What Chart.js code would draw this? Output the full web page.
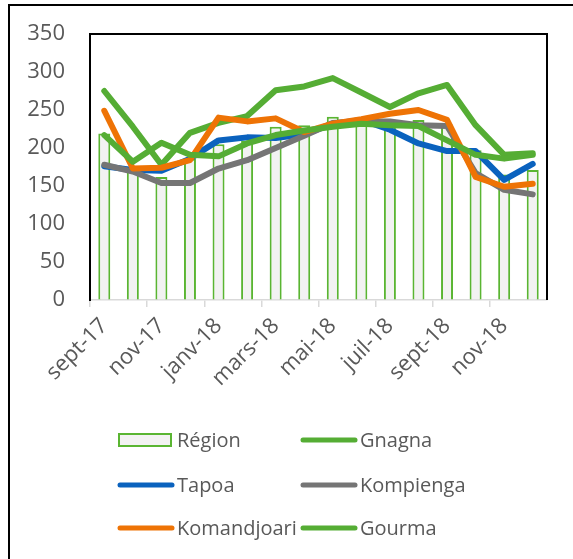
<!DOCTYPE html>
<html>
<head>
<meta charset="utf-8">
<script src="https://cdn.jsdelivr.net/npm/chart.js@4.4.0/dist/chart.umd.min.js"></script>
<style>
  html, body { margin: 0; padding: 0; background: #fff; }
  #wrap { position: relative; width: 573px; height: 559px; }
</style>
</head>
<body>
<div id="wrap"><canvas id="chart" width="573" height="559"></canvas></div>
<script>
// monthly values, sept-17 .. déc-18
const months = ['sept-17', 'oct-17', 'nov-17', 'déc-17', 'janv-18', 'févr-18', 'mars-18', 'avr-18',
                'mai-18', 'juin-18', 'juil-18', 'août-18', 'sept-18', 'oct-18', 'nov-18', 'déc-18'];
const region      = [219, 175, 162, 186, 205, 210, 228, 230, 241, 240, 233, 237, 231, 197, 165, 171];
const gnagna      = [275, 228, 178, 220, 233, 242, 276, 281, 292, 273, 254, 272, 283, 230, 191, 193];
const tapoa       = [176, 171, 170, 186, 210, 214, 213, 218, 232, 237, 224, 206, 196, 196, 158, 179];
const kompienga   = [178, 169, 154, 154, 173, 184, 200, 216, 233, 235, 235, 230, 229, 167, 145, 139];
const komandjoari = [249, 173, 174, 184, 240, 235, 239, 221, 232, 238, 245, 250, 237, 162, 149, 153];
const gourma      = [217, 182, 207, 191, 189, 206, 217, 223, 228, 232, 230, 229, 210, 191, 186, 191];
const yTickValues = [0, 50, 100, 150, 200, 250, 300, 350];

const FONT = '"Open Sans", "Noto Sans", sans-serif';
const TEXT = '#595959';

function lineSet(label, data, color, order) {
    return {
        type: 'line', label: label, data: data, order: order,
        borderColor: color, backgroundColor: color, borderWidth: 6,
        tension: 0, pointRadius: 0, borderCapStyle: 'round', borderJoinStyle: 'round'
    };
}

// frame, top/right plot border and the two-column legend
const framePlugin = {
    id: 'frame',
    beforeDraw(chart) {
        const ctx = chart.ctx;
        ctx.save();
        ctx.fillStyle = '#fff';
        ctx.fillRect(0, 0, chart.width, chart.height);
        ctx.restore();
    },
    afterDraw(chart) {
        const { ctx, chartArea: a } = chart;
        ctx.save();
        ctx.strokeStyle = '#000';
        ctx.lineWidth = 2;
        ctx.beginPath();
        ctx.moveTo(a.left, a.top);
        ctx.lineTo(a.right, a.top);
        ctx.lineTo(a.right, a.bottom);
        ctx.stroke();

        ctx.beginPath();
        ctx.moveTo(9, chart.height);
        ctx.lineTo(9, 5);
        ctx.lineTo(chart.width, 5);
        ctx.stroke();

        const cols = [119, 302];
        const rows = [440, 485, 528];
        ctx.font = '20px ' + FONT;
        ctx.textBaseline = 'middle';
        ctx.fillStyle = TEXT;
        chart.data.datasets.forEach(function (ds, i) {
            const x = cols[i % 2], y = rows[Math.floor(i / 2)];
            if (ds.type === 'line') {
                ctx.strokeStyle = ds.borderColor;
                ctx.lineWidth = 5;
                ctx.lineCap = 'round';
                ctx.beginPath();
                ctx.moveTo(x + 1, y);
                ctx.lineTo(x + 53, y);
                ctx.stroke();
            } else {
                ctx.fillStyle = ds.backgroundColor;
                ctx.fillRect(x, y - 6, 52, 12);
                ctx.strokeStyle = ds.borderColor;
                ctx.lineWidth = 2;
                ctx.strokeRect(x, y - 6, 52, 12);
            }
            ctx.fillStyle = TEXT;
            ctx.fillText(ds.label, x + 58, y + 1);
        });
        ctx.restore();
    }
};

const ctx = document.getElementById('chart').getContext('2d');
new Chart(ctx, {
    type: 'bar',
    data: {
        labels: months,
        datasets: [
            {
                type: 'bar', label: 'Région', data: region, order: 7,
                backgroundColor: '#F2F2F2', borderColor: '#5AB532', borderWidth: 2,
                barPercentage: 0.42, categoryPercentage: 1
            },
            lineSet('Gnagna', gnagna, '#55AD34', 6),
            lineSet('Tapoa', tapoa, '#0A62BE', 5),
            lineSet('Kompienga', kompienga, '#757575', 4),
            lineSet('Komandjoari', komandjoari, '#EE7305', 3),
            lineSet('Gourma', gourma, '#55AD34', 2)
        ]
    },
    options: {
        responsive: false,
        animation: false,
        layout: { padding: { left: 0, top: 34, right: 26, bottom: 0 } },
        plugins: { legend: { display: false }, tooltip: { enabled: false } },
        scales: {
            x: {
                offset: true,
                grid: {
                    offset: true, drawOnChartArea: false, tickLength: 7, lineWidth: 1.5,
                    color: c => (c.index % 2 === 0 ? '#D9D9D9' : 'rgba(0,0,0,0)')
                },
                border: { color: '#D9D9D9', width: 1.5 },
                ticks: {
                    autoSkip: false, maxRotation: 45, minRotation: 45, padding: 6,
                    font: { size: 22, family: FONT }, color: TEXT,
                    callback: (v, i) => (i % 2 === 0 ? months[i] : '')
                },
                afterFit: s => { s.height = 259; s.paddingTop = 0; s.paddingBottom = 0; }
            },
            y: {
                min: 0, max: 350,
                afterBuildTicks: s => { s.ticks = yTickValues.map(v => ({ value: v })); },
                grid: { drawOnChartArea: false, drawTicks: false },
                border: { color: '#000', width: 2 },
                ticks: { padding: 25, font: { size: 22, family: FONT }, color: TEXT },
                afterFit: s => { s.width = 90; s.paddingTop = 0; s.paddingBottom = 0; }
            }
        }
    },
    plugins: [framePlugin]
});
</script>
</body>
</html>
